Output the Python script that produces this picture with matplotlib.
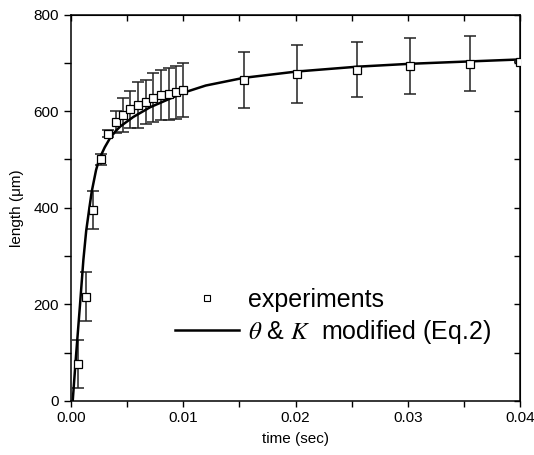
import numpy as np
import matplotlib
matplotlib.use('Agg')
import matplotlib.pyplot as plt
from matplotlib.lines import Line2D

plt.rcParams['font.family'] = ['Liberation Sans', 'DejaVu Sans']
plt.rcParams['mathtext.fontset'] = 'stix'

# mesures (temps en s, longueur en um, barre d'erreur +/-)
t_exp = [0.00065, 0.00134, 0.0020, 0.00265, 0.00327, 0.0040, 0.00466, 0.00528,
         0.0060, 0.00665, 0.00733, 0.0080, 0.0087, 0.00935, 0.00995,
         0.01538, 0.0201, 0.02548, 0.03017, 0.03555, 0.0400]
L_exp = [77, 216, 395, 500, 553, 577, 592, 604, 613, 619, 628, 633, 636, 639, 643,
         664, 676, 686, 693, 698, 701]
err_exp = [50, 50, 40, 11, 7, 23, 36, 38, 47, 46, 50, 52, 54, 55, 56,
           58, 60, 57, 58, 57, 0]

# courbe du modele (theta & K modifies, Eq.2)
t_mod = [0.00015, 0.00045, 0.0008, 0.0011, 0.00135, 0.00163, 0.00184, 0.00223,
         0.00252, 0.00300, 0.00347, 0.00395, 0.00437, 0.00555, 0.00704, 0.00853,
         0.0100, 0.0120, 0.0154, 0.0201, 0.0255, 0.0302, 0.0356, 0.0400]
L_mod = [0, 95, 199, 292, 352, 399, 433, 478, 501, 525, 544, 558, 568, 588, 608,
         623, 638, 653, 669, 682, 692, 698, 703, 707]

fig = plt.figure(figsize=(5.34, 4.55), dpi=100)
ax = fig.add_axes([0.133, 0.1187, 0.841, 0.8494])

ax.errorbar(t_exp, L_exp, yerr=err_exp, fmt='none', ecolor='#222222',
            elinewidth=1.1, capsize=4, capthick=1.1, zorder=2)
ax.plot(t_mod, L_mod, color='black', lw=1.8, zorder=3)
ax.plot(t_exp, L_exp, ls='none', marker='s', ms=6, mfc='white', mec='black',
        mew=0.9, zorder=4)

ax.set_xlim(0, 0.04)
ax.set_ylim(0, 800)
ax.set_xticks([0.00, 0.01, 0.02, 0.03, 0.04])
ax.set_xticklabels(['0.00', '0.01', '0.02', '0.03', '0.04'])
ax.set_xticks(np.arange(0, 0.0401, 0.005), minor=True)
ax.set_yticks([0, 200, 400, 600, 800])
ax.set_yticks(np.arange(0, 801, 100), minor=True)

for s in ax.spines.values():
    s.set_linewidth(1.1)

ax.tick_params(axis='x', which='both', direction='out', length=4.5, width=1.0,
               labelsize=11, pad=3)
ax.tick_params(axis='y', which='both', direction='out', length=5, width=1.0,
               labelsize=11, pad=3.5)
# ticks du haut et de droite vers l'interieur
axt = ax.secondary_xaxis('top')
axt.set_xticks([0.005 * i for i in range(9)])
axt.tick_params(direction='in', length=4, width=1.0, labeltop=False)
axt.set_xticklabels([])
axr = ax.secondary_yaxis('right')
axr.set_yticks(list(range(0, 801, 100)))
axr.tick_params(direction='in', length=4, width=1.0)
axr.set_yticklabels([])

ax.set_xlabel('time (sec)', fontsize=11, labelpad=5)
ax.set_ylabel('length (\u03bcm)', fontsize=11, labelpad=7)

h1 = Line2D([], [], ls='none', marker='s', ms=5, mfc='white', mec='black', mew=0.8)
h2 = Line2D([], [], color='black', lw=1.8)
ax.legend([h1, h2], ['experiments', r'$\theta$ & $K$  modified (Eq.2)'],
          loc='upper left', bbox_to_anchor=(0.2316, 0.292), frameon=False,
          fontsize=18, handlelength=2.56, handletextpad=0.36, labelspacing=0.22,
          borderpad=0, borderaxespad=0)

fig.savefig('out.png', dpi=100)
